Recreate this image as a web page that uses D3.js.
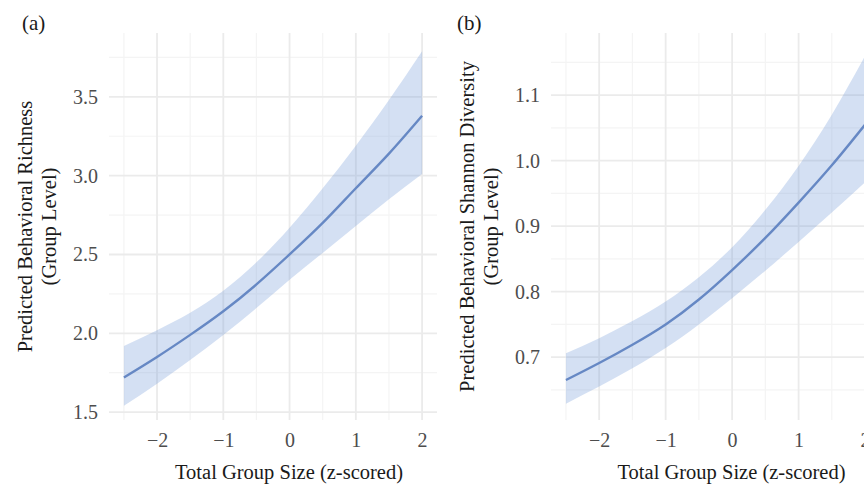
<!DOCTYPE html>
<html>
<head>
<meta charset="utf-8">
<script src="https://cdn.jsdelivr.net/npm/d3@7"></script>
<style>
body { margin: 0; background: #fff; }
svg text { font-family: "Liberation Serif", "DejaVu Serif", serif; }
</style>
</head>
<body>
<script>

// predicted values, at each half step of group size
var xVals = [-2.5, -2, -1.5, -1, -0.5, 0, 0.5, 1, 1.5, 2],
	richMean  = [1.72, 1.85, 1.99, 2.14, 2.31, 2.50, 2.70, 2.92, 3.14, 3.38],
	richUpper = [1.92, 2.02, 2.13, 2.27, 2.45, 2.67, 2.92, 3.19, 3.48, 3.79],
	richLower = [1.54, 1.68, 1.83, 1.99, 2.16, 2.34, 2.51, 2.68, 2.85, 3.01],
	shanMean  = [0.665, 0.691, 0.719, 0.750, 0.788, 0.833, 0.882, 0.936, 0.993, 1.055],
	shanUpper = [0.706, 0.729, 0.755, 0.785, 0.822, 0.868, 0.925, 0.992, 1.070, 1.160],
	shanLower = [0.629, 0.655, 0.683, 0.714, 0.750, 0.790, 0.832, 0.876, 0.921, 0.967],
	xTicks = [-2, -1, 0, 1, 2],
	xMinor = [-2.5, -1.5, -0.5, 0.5, 1.5],
	richTicks = [1.5, 2.0, 2.5, 3.0, 3.5],
	richMinor = [1.75, 2.25, 2.75, 3.25, 3.75],
	shanTicks = [0.7, 0.8, 0.9, 1.0, 1.1],
	shanMinor = [0.65, 0.75, 0.85, 0.95, 1.05, 1.15];

var width = 864,
	height = 485,
	tPad = 33,
	bPad = 420,
	bandColor = "#6f99d6",
	lineColor = "#6688c4",
	majorGrid = "#ebebeb",
	minorGrid = "#f4f4f4";

var svg = d3.select("body")
	.append("svg")
	.attr("width", width)
	.attr("height", height);

function drawPanel(p) {
	var xScale = d3.scaleLinear().domain([-2.725, 2.225]).range([p.left, p.right]),
		yScale = d3.scaleLinear().domain(p.yDomain).range([bPad, tPad]),
		g = svg.append("g");

	// grid, minor first so major sits on top
	g.selectAll(".vminor").data(xMinor).enter().append("line")
		.attr("x1", function(d) { return xScale(d); })
		.attr("x2", function(d) { return xScale(d); })
		.attr("y1", tPad).attr("y2", bPad)
		.style("stroke", minorGrid).style("stroke-width", 1.2);
	g.selectAll(".hminor").data(p.minor).enter().append("line")
		.attr("x1", p.left).attr("x2", p.right)
		.attr("y1", function(d) { return yScale(d); })
		.attr("y2", function(d) { return yScale(d); })
		.style("stroke", minorGrid).style("stroke-width", 1.2);
	g.selectAll(".vmajor").data(xTicks).enter().append("line")
		.attr("x1", function(d) { return xScale(d); })
		.attr("x2", function(d) { return xScale(d); })
		.attr("y1", tPad).attr("y2", bPad)
		.style("stroke", majorGrid).style("stroke-width", 1.8);
	g.selectAll(".hmajor").data(p.ticks).enter().append("line")
		.attr("x1", p.left).attr("x2", p.right)
		.attr("y1", function(d) { return yScale(d); })
		.attr("y2", function(d) { return yScale(d); })
		.style("stroke", majorGrid).style("stroke-width", 1.8);

	var rows = xVals.map(function(x, i) {
		return { x: x, m: p.mean[i], lo: p.lower[i], hi: p.upper[i] };
	});

	var area = d3.area()
		.x(function(d) { return xScale(d.x); })
		.y0(function(d) { return yScale(d.lo); })
		.y1(function(d) { return yScale(d.hi); })
		.curve(d3.curveNatural);
	var line = d3.line()
		.x(function(d) { return xScale(d.x); })
		.y(function(d) { return yScale(d.m); })
		.curve(d3.curveNatural);

	g.append("path").datum(rows)
		.attr("d", area)
		.style("fill", bandColor)
		.style("opacity", 0.3);
	g.append("path").datum(rows)
		.attr("d", line)
		.style("fill", "none")
		.style("stroke", lineColor)
		.style("stroke-width", 2.4);

	// axes: labels only, no ticks or domain line
	var yAxis = d3.axisLeft(yScale).tickValues(p.ticks)
		.tickFormat(d3.format(".1f")).tickSize(0).tickPadding(11);
	var xAxis = d3.axisBottom(xScale).tickValues(xTicks)
		.tickFormat(d3.format("d")).tickSize(0).tickPadding(13);

	var ya = g.append("g").attr("transform", "translate(" + p.left + ",0)").call(yAxis);
	var xa = g.append("g").attr("transform", "translate(0," + bPad + ")").call(xAxis);
	[ya, xa].forEach(function(a) {
		a.select(".domain").remove();
		a.selectAll("text")
			.style("font-family", "Liberation Serif, serif")
			.style("font-size", "20px")
			.style("fill", "#4d4d4d");
	});

	g.append("text")
		.attr("x", (p.left + p.right) / 2 + 16)
		.attr("y", 479)
		.style("text-anchor", "middle")
		.style("font-size", "20.5px")
		.style("fill", "#1a1a1a")
		.text("Total Group Size (z-scored)");

	var cy = (tPad + bPad) / 2;
	p.yTitle.forEach(function(t, i) {
		g.append("text")
			.attr("transform", "translate(" + (p.left - 77 + i * 24) + "," + cy + ") rotate(-90)")
			.style("text-anchor", "middle")
			.style("font-size", "20.5px")
			.style("fill", "#1a1a1a")
			.text(t);
	});

	g.append("text")
		.attr("x", p.tagX)
		.attr("y", 30)
		.style("font-size", "21px")
		.style("fill", "#1a1a1a")
		.text(p.tag);
}

drawPanel({
	left: 109, right: 437, tagX: 22, tag: "(a)",
	yDomain: [1.45, 3.905],
	ticks: richTicks, minor: richMinor,
	mean: richMean, upper: richUpper, lower: richLower,
	yTitle: ["Predicted Behavioral Richness", "(Group Level)"]
});

drawPanel({
	left: 551, right: 880, tagX: 457, tag: "(b)",
	yDomain: [0.604, 1.195],
	ticks: shanTicks, minor: shanMinor,
	mean: shanMean, upper: shanUpper, lower: shanLower,
	yTitle: ["Predicted Behavioral Shannon Diversity", "(Group Level)"]
});

</script>
</body>
</html>
